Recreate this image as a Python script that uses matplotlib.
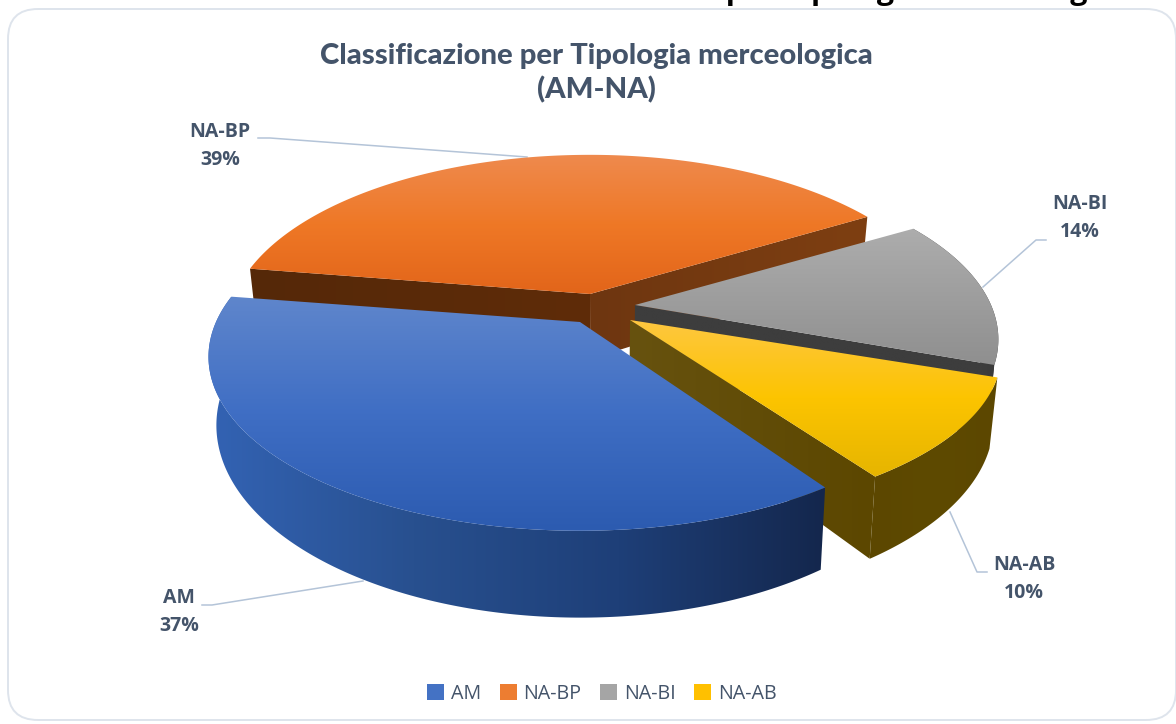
import numpy as np
import matplotlib
matplotlib.use('Agg')
import matplotlib.pyplot as plt
from matplotlib.colors import LinearSegmentedColormap
from matplotlib.patches import FancyBboxPatch, Patch, Polygon

labels = ['AM', 'NA-BP', 'NA-BI', 'NA-AB']
values = [37, 39, 14, 10]
legend_colors = ['#4472C4', '#ED7D31', '#A5A5A5', '#FFC000']
title = 'Classificazione per Tipologia merceologica\n(AM-NA)'
cut_title = 'Classificazione per Tipologia merceologica'

start_angle = 145.8

# exploded pie: apex and radii of each slice, in pixels
slice_cx = [580, 590, 635, 630]
slice_cy = [322, 294, 305, 320]
slice_A = [364, 355, 356, 364]
slice_B = [167, 167, 165, 158]
p = 0.2
D = 65

text_col = '#44546A'
line_col = '#B4C4D8'

plt.rcParams['font.family'] = ['Open Sans', 'DejaVu Sans']

fig = plt.figure(figsize=(11.76, 7.24), dpi=100)
ax = fig.add_axes([0, 0, 1, 1])


def project(i, th, r=1):
    th = np.radians(th)
    u = r*np.sin(th)
    v = r*np.cos(th)
    s = 1/(1 + p*v)
    x = slice_cx[i] + slice_A[i]*u*s
    y = slice_cy[i] - slice_B[i]*v*s
    # bottom of the wall, slightly narrower than the top
    xb = 603 + (x - 603)*0.98
    yb = y + D*s**1.3
    return x, y, xb, yb


def grad_fill(pts, cols, vertical=True):
    # gradient image clipped to a polygon
    pts = np.array(pts)
    x0, x1 = pts[:, 0].min(), pts[:, 0].max()
    y0, y1 = pts[:, 1].min(), pts[:, 1].max()
    cmap = LinearSegmentedColormap.from_list('g', cols)
    g = np.linspace(0, 1, 256)
    g = g.reshape(-1, 1) if vertical else g.reshape(1, -1)
    im = ax.imshow(g, cmap=cmap, extent=[x0, x1, y1, y0], origin='upper',
                   aspect='auto', interpolation='bilinear', zorder=3, vmin=0, vmax=1)
    im.set_clip_path(Polygon(pts, closed=True, transform=ax.transData))


def slice_angles(i):
    fr = np.array(values)/sum(values)*360
    a0 = start_angle + fr[:i].sum()
    return a0, a0 + fr[i]


def top_face(i, cols):
    a0, a1 = slice_angles(i)
    x, y, _, _ = project(i, np.linspace(a0, a1, 200))
    x0, y0, _, _ = project(i, a0, 0)
    grad_fill([(x0, y0)] + list(zip(x, y)), cols)


def arc_wall(i, cols):
    a0, a1 = slice_angles(i)
    x, y, xb, yb = project(i, np.linspace(a0, a1, 200))
    grad_fill(list(zip(x, y)) + list(zip(xb[::-1], yb[::-1])), cols, vertical=False)


def radial_wall(i, ang, cols):
    x, y, xb, yb = project(i, ang)
    x0, y0, xb0, yb0 = project(i, ang, 0)
    grad_fill([(x0, y0), (x, y), (xb, yb), (xb0, yb0)], cols, vertical=False)


# frame
ax.add_patch(FancyBboxPatch((38, 39), 1108, 651, boxstyle='round,pad=30,rounding_size=30',
                            fc='white', ec='#DEE4EC', lw=1.4, zorder=1))

# leader lines, behind the pie
ax.plot([258, 270, 527], [138, 138, 157], color=line_col, lw=1.1, zorder=2)
ax.plot([1046, 1036, 983], [240, 240, 287], color=line_col, lw=1.1, zorder=2)
ax.plot([987, 977, 950], [572, 572, 512], color=line_col, lw=1.1, zorder=2)
ax.plot([202, 212, 363], [605, 605, 581], color=line_col, lw=1.1, zorder=2)

# slices, back to front
a0, a1 = slice_angles(1)
radial_wall(1, a0, ['#552808', '#5F2C09'])
radial_wall(1, a1, ['#6E3610', '#7E3F12'])
top_face(1, ['#EE8A4E', '#EF7826', '#E2651A'])

a0, a1 = slice_angles(2)
radial_wall(2, a1, ['#3D3D3D', '#3D3D3D'])
arc_wall(2, ['#4A4A4A', '#3A3A3A'])
top_face(2, ['#ADADAD', '#8F8F8F'])

a0, a1 = slice_angles(3)
arc_wall(3, ['#5C4700', '#5E4A00', '#5C4700'])
radial_wall(3, a1, ['#67520F', '#5C4700'])
top_face(3, ['#FEC740', '#FCC400', '#E6B500'])

arc_wall(0, ['#3363B4', '#28508F', '#1E3F78', '#14274D'])
top_face(0, ['#5F86CC', '#3F6EC4', '#2C5BB0'])

# titles
ax.text(596, 73, title, ha='center', va='center', fontsize=21.1, fontweight=900,
        family=['Lato', 'DejaVu Sans'], color=text_col, linespacing=1.35, zorder=5)
ax.text(1130, -1, cut_title, ha='right', va='baseline', fontsize=21.8, fontweight='bold',
        color='black', zorder=5, clip_on=False)

# data labels
label_pos = [(179, 612), (220, 146), (1080, 218), (1024, 579)]
for lab, val, (lx, ly) in zip(labels, values, label_pos):
    ax.text(lx, ly, f'{lab}\n{val}%', ha='center', va='center', fontsize=14,
            fontweight='bold', color=text_col, linespacing=1.55, zorder=5)

# legend
handles = [Patch(fc=c, ec='none', label=l) for c, l in zip(legend_colors, labels)]
leg = ax.legend(handles=handles, ncol=4, loc='center', bbox_to_anchor=(602/1176, 1 - 694/724),
                bbox_transform=fig.transFigure, frameon=False, fontsize=14.2, handlelength=0.85,
                handleheight=0.85, handletextpad=0.35, columnspacing=0.95)
for t in leg.get_texts():
    t.set_color(text_col)
leg.set_zorder(5)

ax.set_xlim(0, 1176)
ax.set_ylim(724, 0)
ax.axis('off')

fig.savefig('out.png', dpi=100)
